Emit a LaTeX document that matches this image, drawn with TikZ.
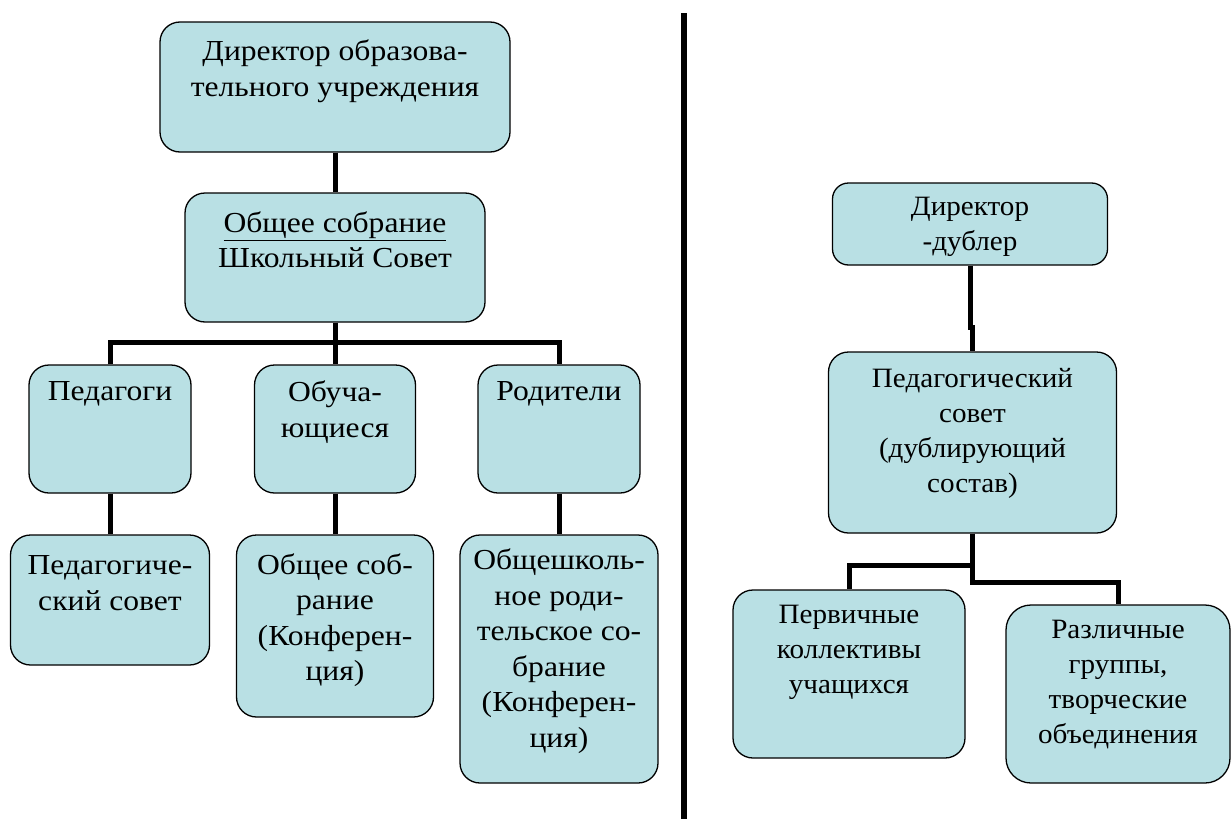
\documentclass[tikz,border=0pt]{standalone}
\usepackage{fontspec}
\setmainfont{Liberation Serif}[FakeStretch=1.09]
\newfontfamily\rightfont{Liberation Serif}[FakeStretch=1.04]
\usetikzlibrary{positioning}
\definecolor{boxfill}{RGB}{185,224,228}

\tikzset{
  box/.style={draw=black, line width=1.3pt, fill=boxfill, rounded corners=20pt, inner sep=0pt},
  txt/.style={align=center, inner sep=0pt, font=\fontsize{29}{35.5}\selectfont},
  txtr/.style={align=center, inner sep=0pt, font=\rightfont\fontsize{28}{35}\selectfont},
  conn/.style={line width=5pt, draw=black}
}

\begin{document}
\begin{tikzpicture}[x=1pt,y=-1pt,line cap=butt,line join=miter]
\useasboundingbox (0,0) rectangle (1232,819);
% left part
\node[box, minimum width=350, minimum height=130] (dirB) at (335,87) {};
\node[txt] (dir) at (335,71) {Директор образова-\\тельного учреждения};
\node[box, minimum width=300, minimum height=129] (sobB) at (335,257.5) {};
\node[txt] (sob) at (335,240) {\underline{Общее собрание}\\Школьный Совет};
\node[box, minimum width=162, minimum height=128] (pedB) at (110,429) {};
\node[txt] (ped) at (110,394) {Педагоги};
\node[box, minimum width=161, minimum height=128] (obuB) at (335,429) {};
\node[txt] (obu) at (335,412) {Обуча-\\ющиеся};
\node[box, minimum width=162, minimum height=128] (rodB) at (559,429) {};
\node[txt] (rod) at (559,394) {Родители};
\node[box, minimum width=199, minimum height=130] (psB) at (110,600) {};
\node[txt] (ps) at (110,583) {Педагогиче-\\ский совет};
\node[box, minimum width=197, minimum height=182] (osB) at (335,626) {};
\node[txt] (os) at (335,620) {Общее соб-\\рание\\(Конферен-\\ция)};
\node[box, minimum width=198, minimum height=248] (orsB) at (559,659) {};
\node[txt] (ors) at (559,651) {Общешколь-\\ное роди-\\тельское со-\\брание\\(Конферен-\\ция)};
\draw[conn] (dirB.south) -- (sobB.north);
\draw[conn] (sobB.south) -- (obuB.north);
\draw[conn] (pedB.north) -- ++(0,-22) -| (rodB.north);
\draw[conn] (pedB.south) -- (psB.north);
\draw[conn] (obuB.south) -- (osB.north);
\draw[conn] (rodB.south) -- (orsB.north);
% divider
\draw[line width=6pt] (684,13) -- (684,819);
% right part
\node[box, rounded corners=16pt, minimum width=275, minimum height=82] (ddB) at (970,224) {};
\node[txtr] (dd) at (970,227) {Директор\\-дублер};
\node[box, minimum width=288, minimum height=181] (psdB) at (972.5,442.5) {};
\node[txtr] (psd) at (972.5,433) {Педагогический\\совет\\(дублирующий\\состав)};
\node[box, minimum width=232, minimum height=168] (pervB) at (849,674) {};
\node[txtr] (perv) at (849,652) {Первичные\\коллективы\\учащихся};
\node[box, rounded corners=25pt, minimum width=224, minimum height=178] (razlB) at (1118,694) {};
\node[txtr] (razl) at (1118,685) {Различные\\группы,\\творческие\\объединения};
\draw[conn] (ddB.south) -- ++(0,62) -| (psdB.north);
\draw[conn] (psdB.south) -- ++(0,32) -| (pervB.north);
\draw[conn] (psdB.south) -- ++(0,49) -| (razlB.north);
\end{tikzpicture}
\end{document}
